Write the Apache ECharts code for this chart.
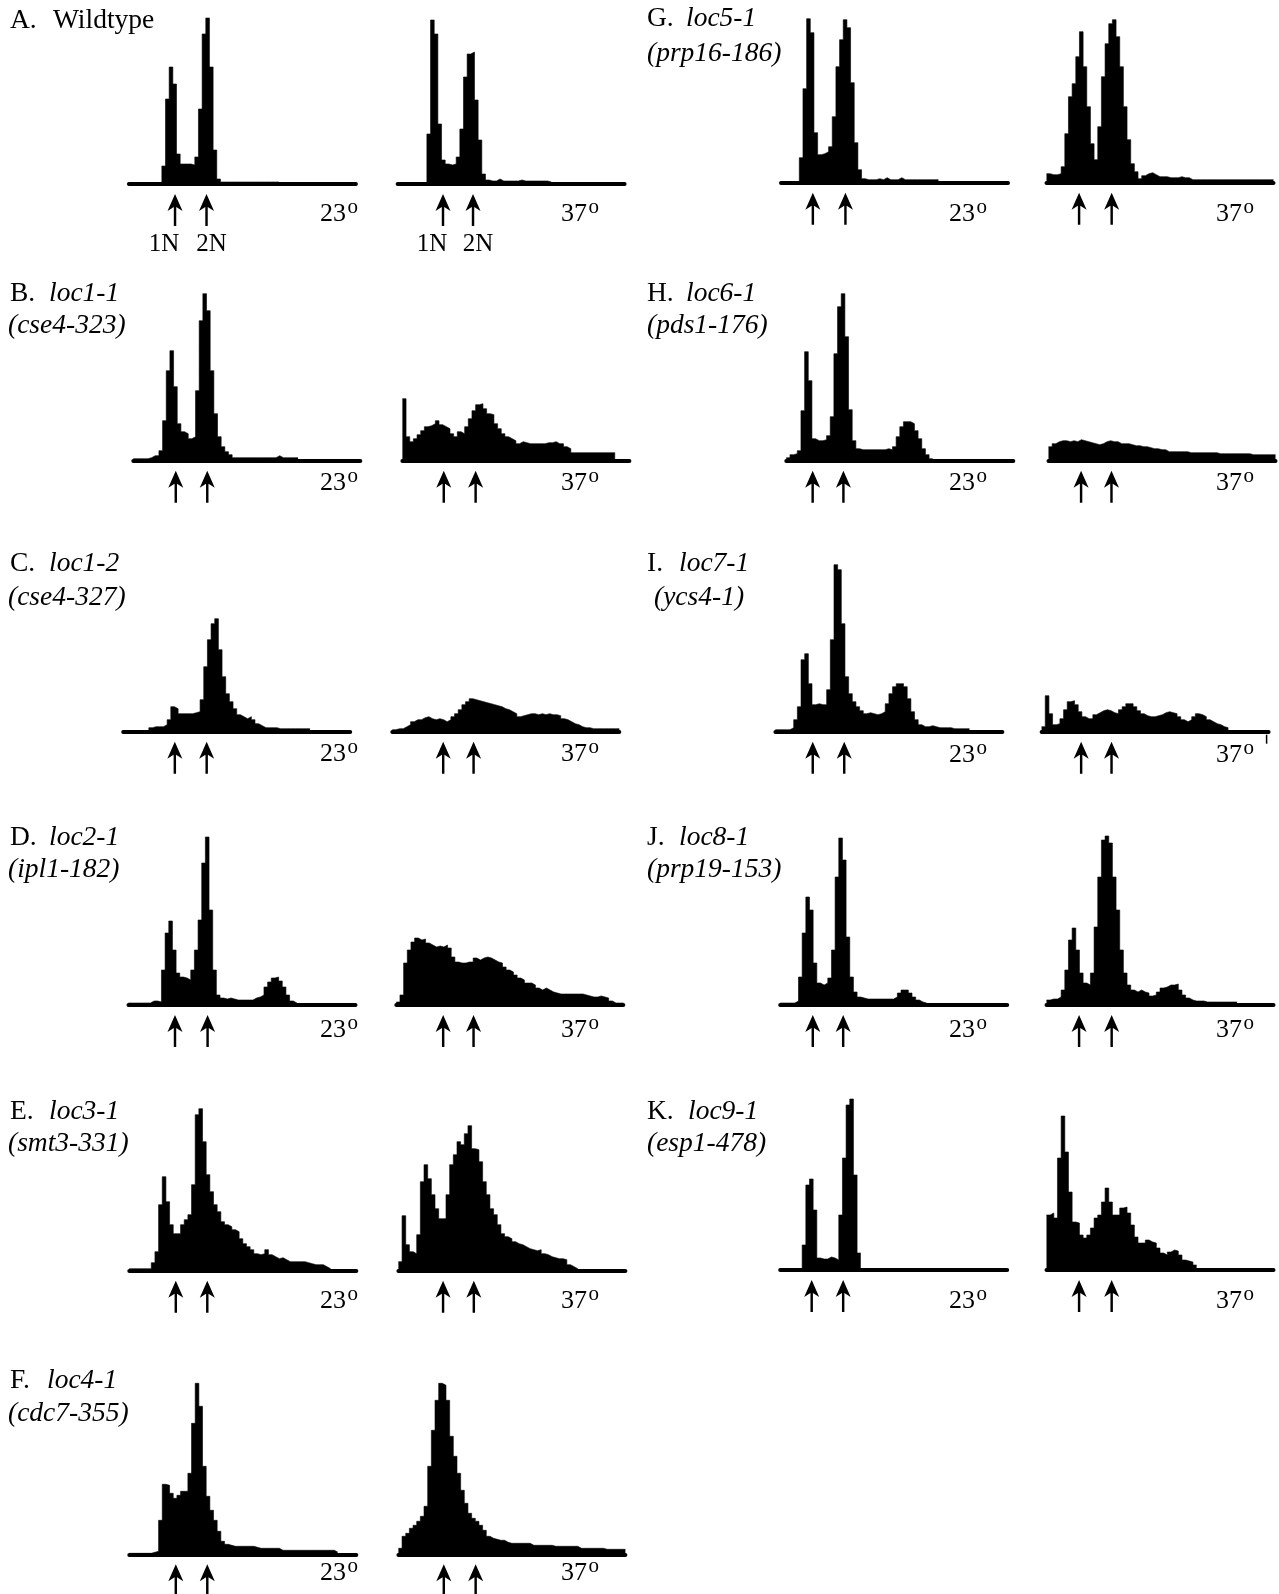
<!DOCTYPE html>
<html>
<head>
<meta charset="utf-8">
<script src="https://cdn.jsdelivr.net/npm/echarts@6/dist/echarts.min.js"></script>
<style>
  html, body { margin: 0; padding: 0; background: #fff; }
  #chart { width: 1279px; height: 1594px; }
</style>
</head>
<body>
<div id="chart"></div>
<script>
// Flow-cytometry DNA content histograms: cell counts per fluorescence bin (62 bins per panel),
// each strain measured at 23° and after shift to 37°.
const A23 = [0,0,0,0,0,0,0,0,0,18,85,117,100,30,20,20,20,19,27,75,150,166,117,34,5,2,2,2,2,2,2,2,2,2,2,2,2,2,2,2,2];
const A37 = [0,0,0,0,0,0,0,0,50,164,150,60,24,20,19,20,27,55,107,130,132,84,44,10,4,3,3,5,3,3,3,3,3,4,3,3,3,3,3,3,3,2];
const B23 = [2,2,2,2,3,5,5,10,40,90,110,74,37,29,27,22,24,70,140,167,150,90,47,24,14,9,6,3,3,3,3,3,3,3,3,3,3,3,3,5,3,3,3,3,3];
const B37 = [62,24,19,22,26,30,34,35,37,40,36,34,32,27,24,29,27,34,42,50,56,57,52,47,46,37,32,27,24,22,20,17,19,18,17,17,17,17,17,18,18,19,17,17,14,12,8,8,8,8,8,8,8,8,8,8,8,8,1];
const C23 = [1,1,1,1,1,1,1,4,5,5,5,7,12,25,23,18,18,18,18,19,20,32,65,92,108,113,82,55,38,30,23,17,15,13,15,12,8,6,4,4,4,4,3,3,3,3,3,3,3,3,3];
const C37 = [2,3,3,5,7,10,12,12,14,15,13,12,13,12,10,12,15,18,22,27,30,33,32,31,30,29,28,27,26,25,23,22,20,18,15,16,17,18,18,17,18,17,18,17,17,16,13,12,10,8,7,5,4,4,3,3,3,3,3,3,3,3];
const D23 = [2,2,2,2,2,2,4,4,3,35,72,84,55,32,28,27,25,35,55,85,142,168,95,35,10,7,6,7,6,5,5,5,5,5,7,8,10,18,23,27,28,24,18,10,4,2];
const D37 = [3,10,42,55,63,67,65,66,62,60,58,59,58,60,57,48,43,42,42,43,43,47,45,47,48,47,45,43,42,38,35,33,30,27,25,22,22,20,17,15,17,15,13,12,11,11,11,11,11,11,11,10,9,8,8,9,8,7,4,2,2,2];
const E23 = [2,2,2,2,2,2,8,19,66,94,69,46,37,37,46,51,56,86,156,162,129,96,79,66,59,49,46,44,41,39,32,27,24,21,17,16,17,21,16,14,12,13,11,9,9,9,9,9,8,7,6,6,6,4,2];
const E37 = [9,55,26,19,17,36,89,106,92,76,62,52,52,76,106,116,129,126,137,145,122,121,109,89,76,62,56,46,37,34,32,29,27,26,24,22,21,20,21,17,16,14,13,12,12,11,6,4,2];
const F23 = [1,1,1,1,1,1,2,3,34,70,69,61,56,59,63,63,81,131,171,148,88,58,44,34,23,13,10,9,8,8,8,8,8,8,7,6,6,6,6,6,6,4,4,4,4,4,4,4,4,4,4,4,4,4,4,4,2];
const F37 = [6,18,21,26,29,33,38,48,88,124,154,171,169,154,118,98,81,64,51,41,36,33,29,24,18,16,15,14,14,12,11,11,11,11,11,11,9,9,9,9,9,9,8,8,8,8,8,8,8,6,6,6,6,6,6,6,5,5,5,5,5,5];
const G23 = [0,0,0,0,0,25,94,164,150,50,28,29,31,36,66,116,143,163,155,100,40,13,4,3,3,3,4,3,5,3,3,3,5,3,3,3,3,3,3,3,3,3,3];
const G37 = [9,8,8,9,16,49,86,99,126,151,116,76,39,23,56,106,139,159,163,146,116,76,43,19,11,4,7,9,10,8,6,6,6,5,5,5,6,5,5,3,3,3,3,3,3,3,3,3,3,3,3,3,3,3,3,3,3,3,3,3,3,3];
const H23 = [3,6,7,10,50,109,80,22,20,20,21,25,44,107,154,167,124,51,20,12,11,11,11,11,11,11,11,12,11,14,24,34,39,39,37,30,22,12,6,2];
const H37 = [14,17,19,20,20,19,20,19,21,20,19,18,17,16,17,19,20,19,19,17,17,17,16,15,15,14,14,13,12,12,11,11,9,9,9,9,9,9,8,8,8,8,8,8,8,8,7,7,7,7,7,7,7,7,7,6,6,6,6,6,6,6];
const I23 = [2,2,2,2,4,12,25,72,78,48,27,28,27,27,42,92,167,162,108,55,38,30,25,21,18,19,18,17,18,20,28,38,45,48,48,45,33,20,12,7,5,5,6,5,4,4,4,4,3,3,3,3,3];
const I37 = [5,36,18,7,8,13,22,30,31,27,20,15,13,13,17,19,21,22,21,19,18,22,25,28,28,25,21,18,16,15,15,16,17,19,20,19,18,15,12,10,12,15,18,17,15,12,10,8,7,5,4];
const J23 = [2,2,2,2,4,28,72,108,95,42,22,20,22,27,55,128,167,145,68,28,13,8,7,6,6,6,6,6,6,6,6,8,12,15,15,12,8,5,3,2];
const J37 = [5,6,6,8,15,35,65,77,55,32,22,20,32,78,128,165,169,162,128,95,55,32,20,15,13,15,13,12,9,10,13,17,18,20,20,21,15,10,7,5,4,4,4,3,3,3,3,3,3,3,3,3];
const K23 = [0,0,0,0,0,0,25,85,91,60,12,11,11,13,12,10,55,112,165,171,95,17];
const K37 = [55,57,52,112,154,118,78,48,47,35,32,35,42,52,55,68,82,68,55,55,62,63,57,45,33,27,27,30,28,27,22,17,15,18,20,19,15,10,9,8,5];

// 1N and 2N DNA content positions (bin units) marked by arrows under each histogram
const ploidyA23 = [12.6, 21.2], ploidyA37 = [12.4, 20.6];
const ploidyB23 = [11.6, 20.2], ploidyB37 = [11.3, 20.0];
const ploidyC23 = [14.1, 22.8], ploidyC37 = [13.9, 22.2];
const ploidyD23 = [12.7, 21.6], ploidyD37 = [12.8, 21.1];
const ploidyE23 = [12.7, 21.3], ploidyE37 = [12.2, 20.6];
const ploidyF23 = [12.7, 21.3], ploidyF37 = [12.4, 21.1];
const ploidyG23 = [8.7, 17.6],  ploidyG37 = [8.9, 17.8];
const ploidyH23 = [7.2, 15.6],  ploidyH37 = [8.9, 17.2];
const ploidyI23 = [10.2, 18.8], ploidyI37 = [10.8, 19.1];
const ploidyJ23 = [8.9, 17.2],  ploidyJ37 = [8.9, 17.8];
const ploidyK23 = [8.6, 17.2],  ploidyK37 = [8.9, 17.8];
const ploidyNames = ['1N', '2N'];
const temperatures = ['23', '37'];

// Strains: panel letter, locus name, allele
const strains = [
  { letter: 'A.', name: 'Wildtype', allele: null,          hist: [A23, A37], ploidy: [ploidyA23, ploidyA37] },
  { letter: 'B.', name: 'loc1-1',   allele: '(cse4-323)',  hist: [B23, B37], ploidy: [ploidyB23, ploidyB37] },
  { letter: 'C.', name: 'loc1-2',   allele: '(cse4-327)',  hist: [C23, C37], ploidy: [ploidyC23, ploidyC37] },
  { letter: 'D.', name: 'loc2-1',   allele: '(ipl1-182)',  hist: [D23, D37], ploidy: [ploidyD23, ploidyD37] },
  { letter: 'E.', name: 'loc3-1',   allele: '(smt3-331)',  hist: [E23, E37], ploidy: [ploidyE23, ploidyE37] },
  { letter: 'F.', name: 'loc4-1',   allele: '(cdc7-355)',  hist: [F23, F37], ploidy: [ploidyF23, ploidyF37] },
  { letter: 'G.', name: 'loc5-1',   allele: '(prp16-186)', hist: [G23, G37], ploidy: [ploidyG23, ploidyG37] },
  { letter: 'H.', name: 'loc6-1',   allele: '(pds1-176)',  hist: [H23, H37], ploidy: [ploidyH23, ploidyH37] },
  { letter: 'I.', name: 'loc7-1',   allele: '(ycs4-1)',    hist: [I23, I37], ploidy: [ploidyI23, ploidyI37] },
  { letter: 'J.', name: 'loc8-1',   allele: '(prp19-153)', hist: [J23, J37], ploidy: [ploidyJ23, ploidyJ37] },
  { letter: 'K.', name: 'loc9-1',   allele: '(esp1-478)',  hist: [K23, K37], ploidy: [ploidyK23, ploidyK37] }
];

// Page layout for each strain row (pixels)
const layout = {
  'A.': { lx: 10,  nx: 53,  ax: 8,   ty: [21],         base: 184,    lefts: [128.9, 397.6],  tempY: 214 },
  'B.': { lx: 10,  nx: 49,  ax: 8,   ty: [294, 326],   base: 460.7,  lefts: [133.3, 402.4],  tempY: 483 },
  'C.': { lx: 10,  nx: 49,  ax: 8,   ty: [564, 598],   base: 731.7,  lefts: [123.2, 392.3],  tempY: 754 },
  'D.': { lx: 10,  nx: 49,  ax: 8,   ty: [838, 870],   base: 1005,   lefts: [128.5, 396.3],  tempY: 1030 },
  'E.': { lx: 10,  nx: 49,  ax: 8,   ty: [1112, 1144], base: 1270.7, lefts: [129.3, 398.4],  tempY: 1301 },
  'F.': { lx: 10,  nx: 47,  ax: 8,   ty: [1381, 1414], base: 1554.3, lefts: [129.3, 398.4],  tempY: 1573 },
  'G.': { lx: 647, nx: 686, ax: 647, ty: [19, 54],     base: 182.7,  lefts: [781, 1046.5],   tempY: 214 },
  'H.': { lx: 647, nx: 686, ax: 647, ty: [294, 326],   base: 460.7,  lefts: [786.3, 1048.5], tempY: 483 },
  'I.': { lx: 647, nx: 679, ax: 654, ty: [564, 598],   base: 731.7,  lefts: [775.4, 1041.6], tempY: 755 },
  'J.': { lx: 647, nx: 679, ax: 647, ty: [838, 870],   base: 1005,   lefts: [780.2, 1046.5], tempY: 1030 },
  'K.': { lx: 647, nx: 688, ax: 647, ty: [1112, 1144], base: 1270,   lefts: [780.2, 1046.5], tempY: 1301 }
};
const tempRight = [[358, 599], [987, 1254]];
const ploidyLabelShift = [-11, 5];

const BINS = 62, PANEL_W = 227, PANEL_H = 180, YMAX = 180;
const FONT = '"Liberation Serif", "Times New Roman", Times, serif';
const ARROW = 'path://M8,0 L16,17 L9.3,13 L9.3,32 L6.7,32 L6.7,13 L0,17 Z';

const chart = echarts.init(document.getElementById('chart'), null, { renderer: 'canvas', width: 1279, height: 1594 });

const grids = [], xAxes = [], yAxes = [], series = [];
const panelRefs = [];
strains.forEach(s => {
  const L = layout[s.letter];
  [0, 1].forEach(k => {
    const gi = grids.length;
    grids.push({ left: L.lefts[k], top: L.base - PANEL_H, width: PANEL_W, height: PANEL_H });
    xAxes.push({
      type: 'value', gridIndex: gi, min: 0, max: BINS,
      axisLine: { show: true, onZero: false, lineStyle: { color: '#000', width: 4 } },
      axisTick: { show: false }, axisLabel: { show: false }, splitLine: { show: false }
    });
    yAxes.push({ type: 'value', gridIndex: gi, min: 0, max: YMAX, show: false });
    const vals = s.hist[k];
    const pts = vals.map((v, i) => [i, v]);
    pts.push([vals.length, vals[vals.length - 1]]);
    series.push({
      type: 'line', xAxisIndex: gi, yAxisIndex: gi, data: pts, step: 'end',
      symbol: 'none', silent: true, animation: false,
      lineStyle: { color: '#000', width: 0.6 },
      areaStyle: { color: '#000', opacity: 1 }
    });
    series.push({
      type: 'scatter', xAxisIndex: gi, yAxisIndex: gi,
      data: s.ploidy[k].map(x => [x, 0]),
      symbol: ARROW, symbolSize: [15, 32], symbolOffset: [0, 26],
      itemStyle: { color: '#000', opacity: 1 }, clip: false, silent: true, animation: false, z: 5
    });
    panelRefs.push({ gi, s, k });
  });
});

chart.setOption({
  backgroundColor: '#fff',
  animation: false,
  grid: grids, xAxis: xAxes, yAxis: yAxes, series: series
});

// Text: strain labels, temperatures and ploidy names
const texts = [];
function txt(text, x, y, size, style, align) {
  texts.push({
    type: 'text', x: x, y: y, silent: true, z: 10,
    style: { text: text, fill: '#000', font: (style || 'normal') + ' ' + size + 'px ' + FONT,
             textAlign: align || 'left', textVerticalAlign: 'middle' }
  });
}
strains.forEach(s => {
  const L = layout[s.letter];
  const col = L.lx < 300 ? 0 : 1;
  txt(s.letter, L.lx, L.ty[0], 27.5, 'normal');
  txt(s.name, L.nx, L.ty[0], 27.5, s.allele ? 'italic' : 'normal');
  if (s.allele) txt(s.allele, L.ax, L.ty[1], 27.5, 'italic');
  [0, 1].forEach(k => {
    const xr = tempRight[col][k];
    txt(temperatures[k], xr - 12, L.tempY, 26, 'normal', 'right');
    txt('o', xr, L.tempY - 7, 21, 'normal', 'right');
  });
});
// ploidy names under the wild-type arrows
panelRefs.filter(p => p.s.letter === 'A.').forEach(p => {
  p.s.ploidy[p.k].forEach((x, j) => {
    const pt = chart.convertToPixel({ gridIndex: p.gi }, [x, 0]);
    txt(ploidyNames[j], pt[0] + ploidyLabelShift[j], pt[1] + 60, 25, 'normal', 'center');
  });
});
// small end tick on the 37° loc7-1 axis
panelRefs.filter(p => p.s.letter === 'I.' && p.k === 1).forEach(p => {
  const pt = chart.convertToPixel({ gridIndex: p.gi }, [BINS, 0]);
  texts.push({ type: 'line', silent: true, shape: { x1: pt[0] - 2, y1: pt[1] + 3, x2: pt[0] - 2, y2: pt[1] + 12 },
               style: { stroke: '#000', lineWidth: 1.5 } });
});

chart.setOption({ graphic: { elements: texts } });
</script>
</body>
</html>
